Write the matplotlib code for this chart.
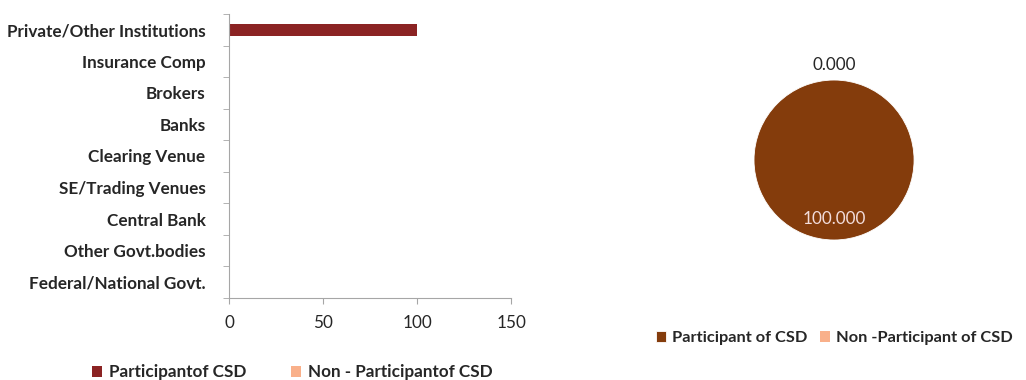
import matplotlib.pyplot as plt
import numpy as np

# data
categories = ["Federal/National Govt.", "Other Govt.bodies", "Central Bank",
              "SE/Trading Venues", "Clearing Venue", "Banks", "Brokers",
              "Insurance Comp", "Private/Other Institutions"]
participant = [0, 0, 0, 0, 0, 0, 0, 0, 100]
non_participant = [0, 0, 0, 0, 0, 0, 0, 0, 0]
bar_series = ["Participantof CSD", "Non - Participantof CSD"]

pie_labels = ["Participant of CSD", "Non -Participant of CSD"]
pie_values = [100.0, 0.0]

plt.rcParams['font.family'] = ['Lato', 'DejaVu Sans']
text_col = "#262626"
fs = 12.3

fig = plt.figure(figsize=(10.26, 3.8), dpi=100)

# bar chart
ax = fig.add_axes([0.2232, 0.216, 0.2749, 0.747])
y = np.arange(len(categories))
b1 = ax.barh(y, participant, height=0.36, color="#8B2323", label=bar_series[0])
b2 = ax.barh(y, non_participant, height=0.36, color="#F9B08A", label=bar_series[1])
ax.set_xlim(0, 150)
ax.set_ylim(-0.5, len(categories) - 0.5)
ax.set_xticks([0, 50, 100, 150])
ax.set_yticks(y)
ax.set_yticklabels(categories, fontweight="bold", fontsize=fs, color=text_col)
ax.set_yticks(np.arange(-0.5, len(categories)), minor=True)
ax.tick_params(axis="y", which="major", length=0, pad=17)
ax.tick_params(axis="y", which="minor", length=4, color="#A6A6A6")
ax.tick_params(axis="x", length=4, color="#A6A6A6", labelsize=fs, labelcolor=text_col, pad=8)
for s in ["top", "right"]:
    ax.spines[s].set_visible(False)
for s in ["left", "bottom"]:
    ax.spines[s].set_color("#A6A6A6")

fig.legend(handles=[b1, b2], labels=bar_series, loc="center", bbox_to_anchor=(0.285, 0.02),
           ncol=2, frameon=False, prop={"weight": "bold", "size": fs},
           handlelength=0.6, handleheight=0.6, columnspacing=2.6, handletextpad=0.4,
           labelcolor=text_col)

# pie chart
pax = fig.add_axes([0.7349, 0.3684, 0.156, 0.421])
wedges, _ = pax.pie(pie_values, colors=["#843C0C", "#F9B08A"], startangle=90,
                    counterclock=False, radius=1.0,
                    wedgeprops={"edgecolor": "white", "linewidth": 0.6})
for w, v in zip(wedges, pie_values):
    if v == 0:
        w.set_linewidth(0)
pax.set_xlim(-1, 1)
pax.set_ylim(-1, 1)
pax.set_aspect("auto")
pax.text(0, 1.19, f"{pie_values[1]:.3f}", ha="center", va="center", fontsize=fs, color=text_col)
pax.text(0, -0.74, f"{pie_values[0]:.3f}", ha="center", va="center", fontsize=fs, color="#F2DCDB")

fig.legend(handles=wedges, labels=pie_labels, loc="center", bbox_to_anchor=(0.813, 0.11),
           ncol=2, frameon=False, prop={"weight": "bold", "size": 11.8},
           handlelength=0.6, handleheight=0.6, columnspacing=0.8, handletextpad=0.35,
           labelcolor=text_col)

fig.savefig("out.png", dpi=100)
